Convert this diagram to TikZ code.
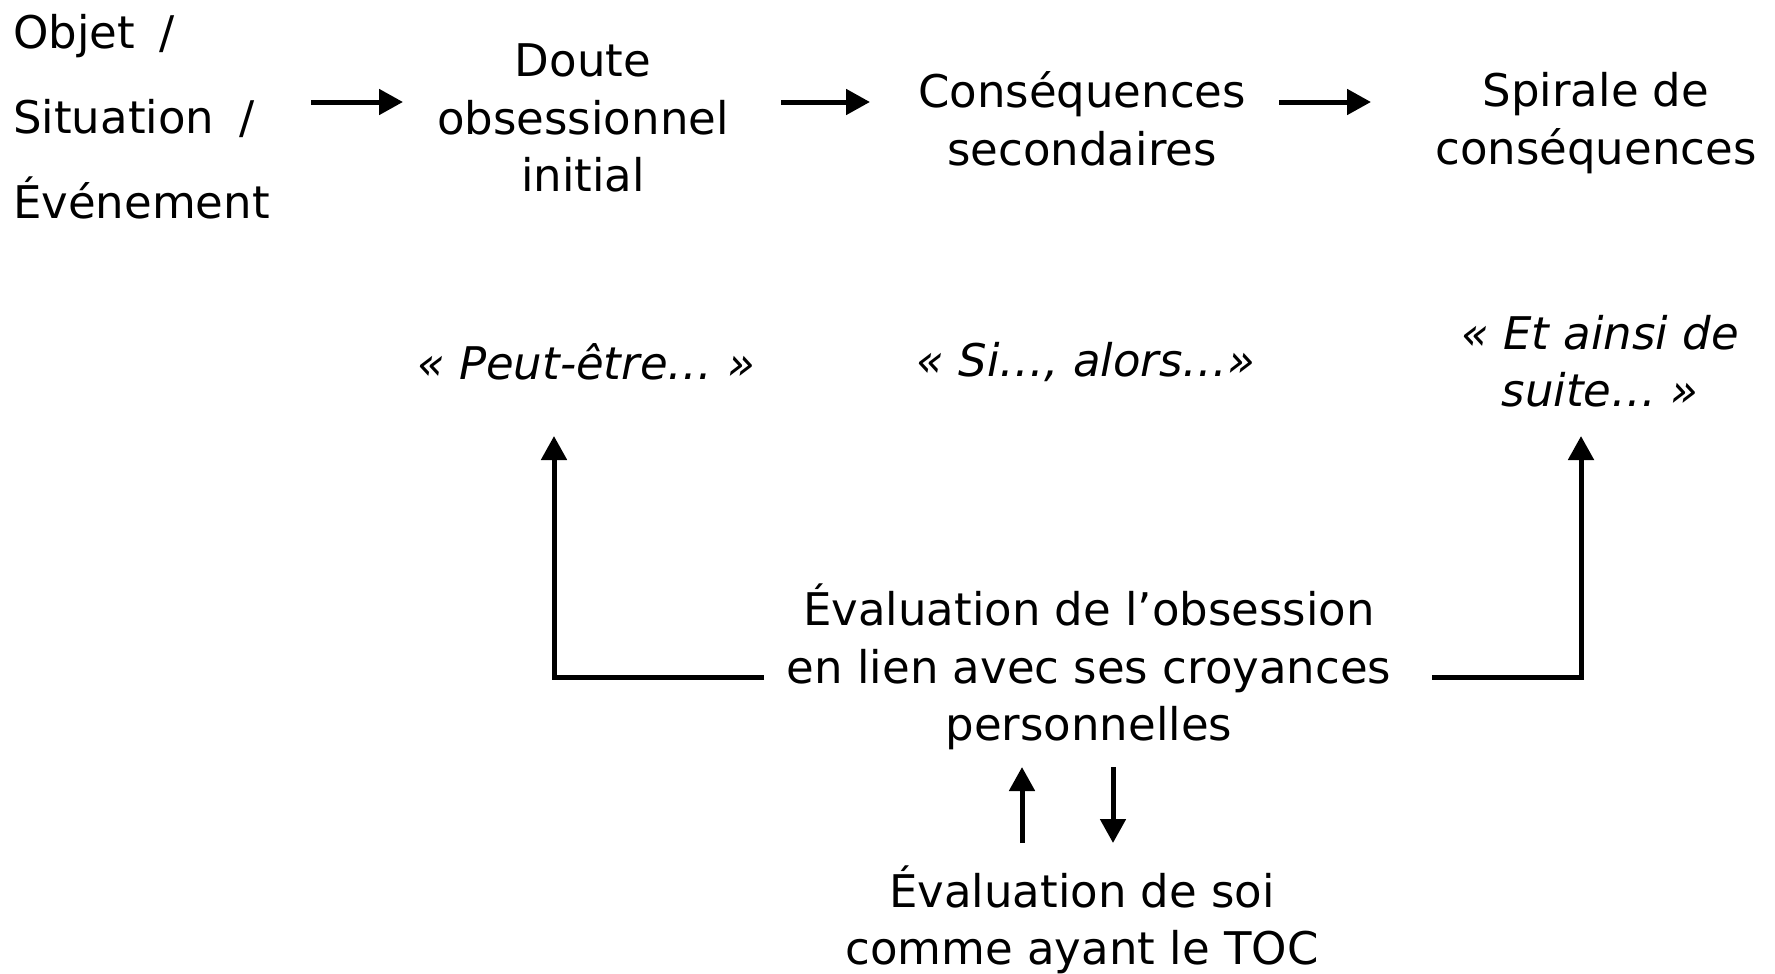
\documentclass[tikz,border=0pt]{standalone}
\usepackage{fontspec}
\setmainfont{DejaVu Sans}
\usetikzlibrary{arrows.meta}
\begin{document}
\begin{tikzpicture}[x=1pt,y=-1pt,
  txt/.style={inner sep=0pt, align=center, font=\fontsize{45}{57.5}\selectfont},
  itxt/.style={inner sep=0pt, align=center, font=\fontsize{45}{57.5}\selectfont\itshape},
  ltxt/.style={inner sep=0pt, align=left, font=\fontsize{45}{85}\selectfont},
  arr/.style={line width=5pt, -{Triangle[length=24pt,width=25pt]}},
  ln/.style={line width=5pt}]
\useasboundingbox (0,0) rectangle (1775,974);
% top row
\node[ltxt, anchor=west] (obj) at (13,117) {Objet\hspace{0.55em}/\\Situation\hspace{0.55em}/\\Événement};
\node[txt] (doute) at (583,118) {Doute\\obsessionnel\\initial};
\node[txt] (cons) at (1082,119) {Conséquences\\secondaires};
\node[txt] (spir) at (1596,123) {Spirale de\\conséquences};
% quotes
\node[itxt] (q1) at (586,362) {« Peut-être… »};
\node[itxt] (q2) at (1086,362) {« Si…, alors…»};
\node[itxt] (q3) at (1600,361) {« Et ainsi de\\suite… »};
% evaluation
\node[txt] (eval) at (1089,667) {Évaluation de l’obsession\\en lien avec ses croyances\\personnelles};
\node[txt] (soi) at (1082,920) {Évaluation de soi\\comme ayant le TOC};
% arrow coordinates
\coordinate (a1s) at (311,102); \coordinate (a1e) at (403,102);
\coordinate (a2s) at (781,102); \coordinate (a2e) at (870,102);
\coordinate (a3s) at (1279,102); \coordinate (a3e) at (1371,102);
\draw[arr] (a1s) -- (a1e);
\draw[arr] (a2s) -- (a2e);
\draw[arr] (a3s) -- (a3e);
% feedback
\coordinate (ls) at (764,677); \coordinate (lc) at (554,677); \coordinate (le) at (554,436);
\coordinate (rs) at (1432,677); \coordinate (rc) at (1581,677); \coordinate (re) at (1581,436);
\draw[arr] (ls) -- (lc) -- (le);
\draw[arr] (rs) -- (rc) -- (re);
% small arrows
\coordinate (us) at (1022,843); \coordinate (ue) at (1022,767);
\coordinate (ds) at (1113,767); \coordinate (de) at (1113,843);
\draw[arr] (us) -- (ue);
\draw[arr] (ds) -- (de);
\end{tikzpicture}
\end{document}
